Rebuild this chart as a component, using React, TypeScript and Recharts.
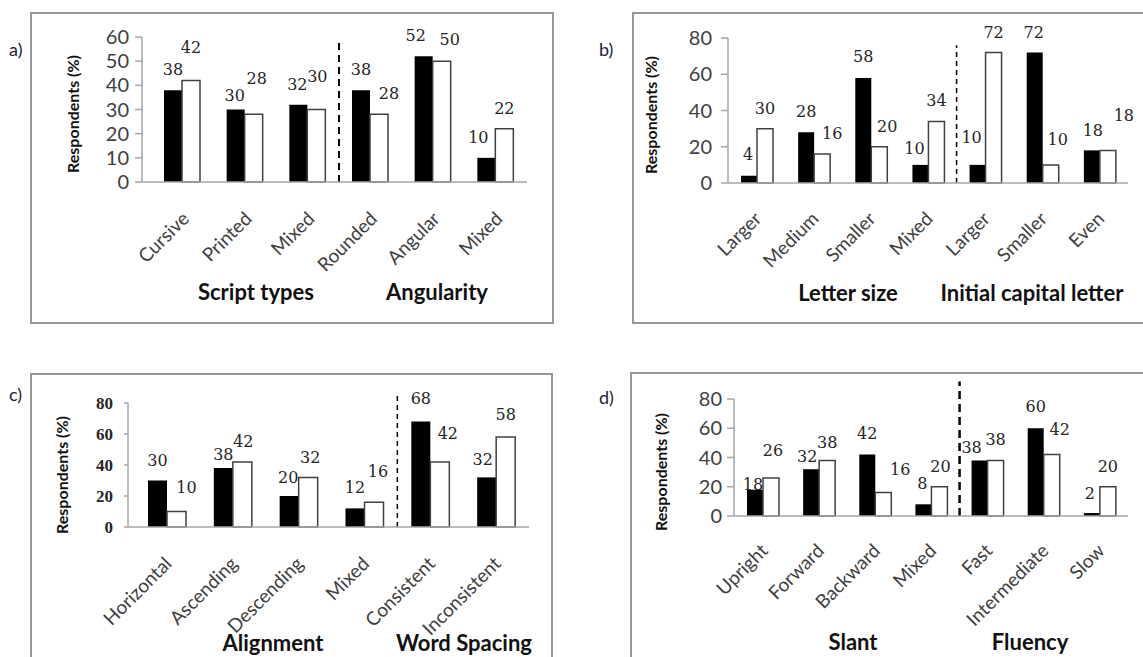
import React from "react";
import { BarChart, Bar, XAxis, YAxis, LabelList, ReferenceLine } from "recharts";

const SANS = "Lato, 'Open Sans', sans-serif";
const SERIF = "'DejaVu Serif', 'Liberation Serif', serif";

// a) script types / angularity
const catsA = ["Cursive", "Printed", "Mixed", "Rounded", "Angular", "Mixed"];
const blackA = [38, 30, 32, 38, 52, 10];
const whiteA = [42, 28, 30, 28, 50, 22];
const ticksA = [0, 10, 20, 30, 40, 50, 60];

// b) letter size / initial capital letter
const catsB = ["Larger", "Medium", "Smaller", "Mixed", "Larger", "Smaller", "Even"];
const blackB = [4, 28, 58, 10, 10, 72, 18];
const whiteB = [30, 16, 20, 34, 72, 10, 18];
const ticksB = [0, 20, 40, 60, 80];

// c) alignment / word spacing
const catsC = ["Horizontal", "Ascending", "Descending", "Mixed", "Consistent", "Inconsistent"];
const blackC = [30, 38, 20, 12, 68, 32];
const whiteC = [10, 42, 32, 16, 42, 58];
const ticksC = [0, 20, 40, 60, 80];

// d) slant / fluency
const catsD = ["Upright", "Forward", "Backward", "Mixed", "Fast", "Intermediate", "Slow"];
const blackD = [18, 32, 42, 8, 38, 60, 2];
const whiteD = [26, 38, 16, 20, 38, 42, 20];
const ticksD = [0, 20, 40, 60, 80];

// hand-placed label offsets (px) like in the original figure
const nudgeA = {
  black: { dx: [0, -1, -1, 0, -8, -8], dy: [0, 6, 0, 0, 0, 0] },
  white: { dx: [0, 3, 1, 10, 8, 0], dy: [-13, -15, -13, 0, -1, 0] },
};
const nudgeB = {
  black: { dx: [-1, 0, 0, -6, -6, -1, 1], dy: [-1, 0, -1, 4, -7, 0, 1] },
  white: { dx: [0, 10, 8, 0, 0, 7, 16], dy: [0, 0, 0, 0, 0, -5, -14] },
};
const nudgeC = {
  black: { dx: [0, 0, -1, 0, 0, -4], dy: [0, 7, 2, 0, -3, 3] },
  white: { dx: [10, 1, 2, 4, 8, 0], dy: [-4, 0, 1, -10, -8, -2] },
};
const nudgeD = {
  black: { dx: [-2, -4, 0, -1, -8, 0, -2], dy: [15, 8, -1, 0, 8, -1, 1] },
  white: { dx: [2, 0, 17, 1, 0, 8, 0], dy: [-7, 3, -3, 0, 0, -5, 0] },
};

const makeValueLabel = (nudge: { dx: number[]; dy: number[] }) => (props: any) => {
  const vb = props.viewBox || props;
  const i = props.index;
  const dx = nudge.dx[i] || 0;
  const dy = nudge.dy[i] || 0;
  return (
    <text
      x={vb.x + vb.width / 2 + dx}
      y={vb.y - 15 + dy}
      textAnchor="middle"
      fontFamily={SERIF}
      fontSize={16}
      fill="#262626"
    >
      {props.value}
    </text>
  );
};

const makeCatTick =
  (labels: Record<string, string>, shiftX: number, shiftY: number) => (props: any) => {
    const { x, y, payload } = props;
    return (
      <g transform={`translate(${x + shiftX},${y + shiftY})`}>
        <text
          textAnchor="end"
          transform="rotate(-45)"
          fontFamily={SANS}
          fontSize={19}
          fill="#404040"
        >
          {labels[payload.value]}
        </text>
      </g>
    );
  };

function Panel({
  id,
  cats,
  black,
  white,
  ticks,
  divider,
  dashTop,
  dash,
  nudge,
  left,
  top,
  width,
  height,
  yWidth,
  mTop,
  mRight,
  xHeight,
  padLeft,
  barSize,
  tickStyle,
  tickSize,
  tickMargin,
  catShift,
}: any) {
  const rows = cats.map((c: string, i: number) => ({
    key: `${id}${i}`,
    label: c,
    black: black[i],
    white: white[i],
  }));
  const labels: Record<string, string> = {};
  rows.forEach((r: any) => (labels[r.key] = r.label));
  const divKey = rows[divider].key;
  return (
    <div style={{ position: "absolute", left, top }}>
      <BarChart
        width={width}
        height={height}
        data={rows}
        barGap={0}
        barSize={barSize}
        margin={{ top: mTop, right: mRight, bottom: 0, left: 0 }}
      >
        <XAxis
          dataKey="key"
          type="category"
          interval={0}
          height={xHeight}
          padding={{ left: padLeft, right: 0 }}
          tickLine={false}
          tickSize={0}
          tickMargin={0}
          axisLine={{ stroke: "#a6a6a6", strokeWidth: 1.5 }}
          tick={makeCatTick(labels, catShift[0], catShift[1])}
        />
        <YAxis
          width={yWidth}
          domain={[0, ticks[ticks.length - 1]]}
          ticks={ticks}
          interval={0}
          tickSize={tickSize}
          tickMargin={tickMargin}
          axisLine={{ stroke: "#a6a6a6", strokeWidth: 1.5 }}
          tickLine={{ stroke: "#a6a6a6", strokeWidth: 1.5 }}
          tick={tickStyle}
        />
        <ReferenceLine
          segment={[
            { x: divKey, y: 0 },
            { x: divKey, y: dashTop },
          ]}
          position="end"
          ifOverflow="visible"
          stroke="#000"
          strokeWidth={dash.w}
          strokeDasharray={dash.pattern}
        />
        <Bar dataKey="black" fill="#000" isAnimationActive={false}>
          <LabelList dataKey="black" content={makeValueLabel(nudge.black)} />
        </Bar>
        <Bar
          dataKey="white"
          fill="#fff"
          stroke="#404040"
          strokeWidth={1.5}
          isAnimationActive={false}
        >
          <LabelList dataKey="white" content={makeValueLabel(nudge.white)} />
        </Bar>
      </BarChart>
    </div>
  );
}

const bigTick = { fontFamily: SANS, fontSize: 20, fill: "#404040" };
const serifTick = { fontFamily: "'Liberation Serif', serif", fontSize: 17, fontWeight: "bold", fill: "#262626" };

const boxStyle = (left: number, top: number, width: number, height: number) => ({
  position: "absolute" as const,
  left,
  top,
  width,
  height,
  border: "2px solid #969696",
  boxSizing: "border-box" as const,
});

const titleProps = {
  fontFamily: SANS,
  fontSize: 22,
  fontWeight: "bold" as const,
  fill: "#111",
  textAnchor: "middle" as const,
};
const yTitleProps = {
  fontFamily: SANS,
  fontSize: 16,
  fontWeight: "bold" as const,
  fill: "#111",
  textAnchor: "middle" as const,
};
const letterProps = { fontFamily: SANS, fontSize: 18, fill: "#1c2336" };

export default function App() {
  return (
    <div
      style={{
        position: "absolute",
        left: 0,
        top: 0,
        width: 1143,
        height: 657,
        overflow: "hidden",
        background: "#fff",
      }}
    >
      <div style={boxStyle(30, 12, 524, 312)} />
      <div style={boxStyle(632, 12, 530, 312)} />
      <div style={boxStyle(30, 373, 523, 300)} />
      <div style={boxStyle(630, 372, 530, 300)} />

      <Panel
        id="a"
        cats={catsA}
        black={blackA}
        white={whiteA}
        ticks={ticksA}
        divider={2}
        dashTop={59.5}
        dash={{ w: 2, pattern: "7 5" }}
        nudge={nudgeA}
        left={30}
        top={12}
        width={523}
        height={306}
        yWidth={112}
        mTop={25}
        mRight={26}
        xHeight={136}
        padLeft={9}
        barSize={18}
        tickStyle={bigTick}
        tickSize={7}
        tickMargin={6}
        catShift={[8, 38]}
      />
      <Panel
        id="b"
        cats={catsB}
        black={blackB}
        white={whiteB}
        ticks={ticksB}
        divider={3}
        dashTop={76}
        dash={{ w: 1.5, pattern: "5 4" }}
        nudge={nudgeB}
        left={632}
        top={12}
        width={511}
        height={306}
        yWidth={96}
        mTop={26}
        mRight={15}
        xHeight={135}
        padLeft={0}
        barSize={16}
        tickStyle={bigTick}
        tickSize={7}
        tickMargin={9}
        catShift={[6, 37]}
      />
      <Panel
        id="c"
        cats={catsC}
        black={blackC}
        white={whiteC}
        ticks={ticksC}
        divider={3}
        dashTop={85}
        dash={{ w: 1.5, pattern: "5 4" }}
        nudge={nudgeC}
        left={30}
        top={373}
        width={522}
        height={284}
        yWidth={98}
        mTop={30}
        mRight={23}
        xHeight={130}
        padLeft={6}
        barSize={19}
        tickStyle={serifTick}
        tickSize={4}
        tickMargin={11}
        catShift={[6, 38]}
      />
      <Panel
        id="d"
        cats={catsD}
        black={blackD}
        white={whiteD}
        ticks={ticksD}
        divider={3}
        dashTop={92}
        dash={{ w: 2.5, pattern: "8 5" }}
        nudge={nudgeD}
        left={630}
        top={372}
        width={513}
        height={285}
        yWidth={104}
        mTop={27}
        mRight={15}
        xHeight={141}
        padLeft={1}
        barSize={16}
        tickStyle={bigTick}
        tickSize={7}
        tickMargin={5}
        catShift={[6, 36]}
      />

      <svg
        width={1143}
        height={657}
        style={{ position: "absolute", left: 0, top: 0, pointerEvents: "none" }}
      >
        <text x={9} y={56} {...letterProps}>a)</text>
        <text x={599} y={56} {...letterProps}>b)</text>
        <text x={9} y={401} {...letterProps}>c)</text>
        <text x={599} y={404} {...letterProps}>d)</text>

        <text transform="translate(79,114) rotate(-90)" {...yTitleProps}>Respondents (%)</text>
        <text transform="translate(657,115) rotate(-90)" {...yTitleProps}>Respondents (%)</text>
        <text transform="translate(68,475) rotate(-90)" {...yTitleProps}>Respondents (%)</text>
        <text transform="translate(667,472) rotate(-90)" {...yTitleProps}>Respondents (%)</text>

        <text x={256} y={300} {...titleProps}>Script types</text>
        <text x={437} y={300} {...titleProps}>Angularity</text>
        <text x={848} y={301} {...titleProps}>Letter size</text>
        <text x={1032} y={301} {...titleProps}>Initial capital letter</text>
        <text x={273} y={651} {...titleProps}>Alignment</text>
        <text x={464} y={651} {...titleProps}>Word Spacing</text>
        <text x={853} y={650} {...titleProps}>Slant</text>
        <text x={1030} y={650} {...titleProps}>Fluency</text>
      </svg>
    </div>
  );
}
